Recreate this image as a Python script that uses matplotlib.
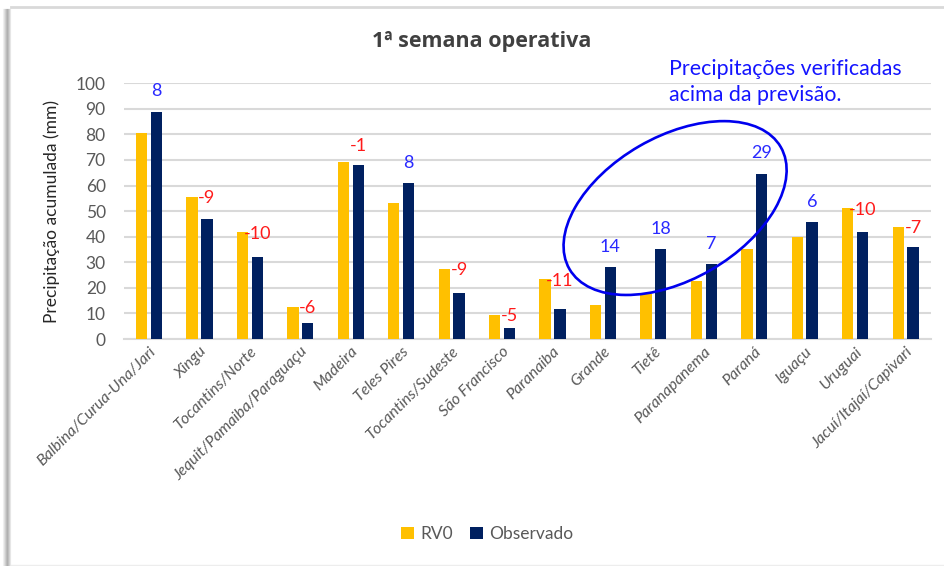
"""
Precipitação acumulada por bacia - 1ª semana operativa.
RV0 (previsão) contra o observado, com a diferença escrita sobre cada par.
"""

import numpy as np
import matplotlib.pyplot as plt
from matplotlib.lines import Line2D
from matplotlib.patches import Ellipse
from matplotlib.transforms import ScaledTranslation

# --- Dados ---
bacias = ['Balbina/Curua-Una/Jari', 'Xingu', 'Tocantins/Norte',
          'Jequit/Pamaiba/Paraguaçu', 'Madeira', 'Teles Pires',
          'Tocantins/Sudeste', 'São Francisco', 'Paranaiba', 'Grande',
          'Tietê', 'Paranapanema', 'Paraná', 'Iguaçu', 'Uruguai',
          'Jacuí/Itajaí/Capivari']
rv0 = [80.7, 55.5, 41.7, 12.6, 69.2, 53.2, 27.4, 9.4,
       23.3, 13.4, 17.6, 22.8, 35.3, 39.8, 51.1, 43.8]
observado = [88.9, 47.1, 31.9, 6.1, 68.1, 61.0, 18.0, 4.3,
             11.7, 28.2, 35.2, 29.3, 64.7, 45.8, 41.7, 36.0]
diferenca = [8, -9, -10, -6, -1, 8, -9, -5, -11, 14, 18, 7, 29, 6, -10, -7]

plt.rcParams['font.family'] = ['Lato', 'DejaVu Sans']

fig = plt.figure(figsize=(9.45, 5.66), dpi=100)
ax = fig.add_axes([0.131, 0.401, 0.854, 0.452])

x = np.arange(len(bacias))
w = 0.225
ax.bar(x - 0.147, rv0, w, color='#FFC000', label='RV0', zorder=3)
ax.bar(x + 0.147, observado, w, color='#002060', label='Observado', zorder=3)

ax.set_xlim(-0.5, len(bacias) - 0.5)
ax.set_ylim(0, 100)
ax.set_yticks(range(0, 101, 10))
ax.yaxis.grid(True, color='#d9d9d9', lw=1.5)
ax.set_axisbelow(True)
for s in ['top', 'right', 'left']:
    ax.spines[s].set_visible(False)
ax.spines['bottom'].set_color('#d9d9d9')
ax.spines['bottom'].set_linewidth(1.5)
ax.tick_params(axis='both', length=0, colors='#595959', labelsize=12.5)
ax.tick_params(axis='y', pad=13)
ax.tick_params(axis='x', pad=4)
ax.set_xticks(x)
ax.set_xticklabels(bacias, rotation=45, ha='right', rotation_mode='anchor',
                   style='italic', fontsize=11.5)

ax.set_ylabel('Precipitação acumulada (mm)', fontsize=12.5, color='#262626')
ax.yaxis.set_label_coords(-0.079, 0.5)

# diferença observado - RV0 sobre cada par de barras
for i, d in enumerate(diferenca):
    cor = '#2a2aff' if d > 0 else '#ff1a1a'
    txt = str(d)
    if d > 0:
        ax.annotate(txt, (x[i] + 0.147, observado[i]), xytext=(0, 11),
                    textcoords='offset points', ha='center', va='baseline',
                    color=cor, fontsize=13, clip_on=False)
    elif rv0[i] - observado[i] > 3:
        ax.annotate(txt, (x[i] + 0.147, rv0[i]), xytext=(0, -1),
                    textcoords='offset points', ha='center', va='center',
                    color=cor, fontsize=13, clip_on=False)
    else:
        ax.annotate(txt, (x[i] + 0.147, rv0[i]), xytext=(0, 8),
                    textcoords='offset points', ha='center', va='baseline',
                    color=cor, fontsize=13, clip_on=False)

# elipse destacando Grande..Paraná
elipse = Ellipse((0, 0), 2.44, 1.43, angle=30, fill=False, ec='#0000ee',
                 lw=1.9, zorder=5,
                 transform=fig.dpi_scale_trans
                 + ScaledTranslation(10.43, 51.2, ax.transData))
ax.add_artist(elipse)
elipse.set_clip_on(False)

fig.text(669 / 945, 1 - 82 / 566, 'Precipitações verificadas\nacima da previsão.',
         ha='left', va='center', fontsize=15.4, color='#1414ff', linespacing=1.35)

fig.text(482 / 945, 1 - 42 / 566, '1ª semana operativa', ha='center',
         va='center', fontsize=15.5, weight='bold', color='#404040',
         family=['Open Sans', 'DejaVu Sans'])

fig.legend(loc='center', bbox_to_anchor=(487 / 945, 1 - 534 / 566), ncol=2,
           frameon=False, fontsize=12.5, handlelength=0.75, handleheight=0.75,
           handletextpad=0.35, columnspacing=1.0, labelcolor='#595959')

# moldura do gráfico (linha superior e sombra à esquerda)
fig.add_artist(Line2D([11 / 945, 1], [1 - 7 / 566] * 2, color='#d9d9d9', lw=2))
fig.add_artist(Line2D([11 / 945, 1], [1 - 565 / 566] * 2, color='#ededed', lw=1))
for k, g in enumerate(['#f0f0f0', '#e0e0e0', '#cfcfcf', '#bdbdbd',
                       '#b0b0b0', '#bdbdbd', '#d0d0d0', '#e6e6e6']):
    xx = (3 + k) / 945
    fig.add_artist(Line2D([xx, xx], [0, 1 - 9 / 566], color=g, lw=0.8))

fig.savefig('out.png', dpi=100)
